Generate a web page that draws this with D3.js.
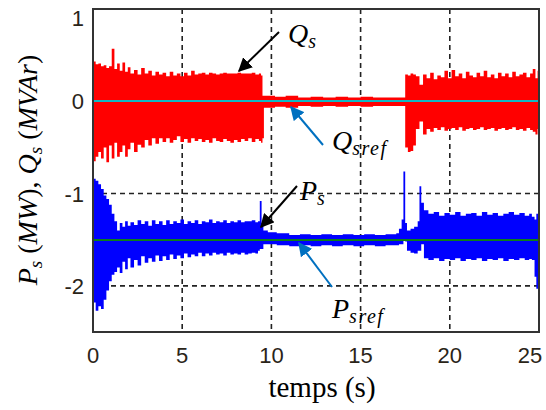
<!DOCTYPE html>
<html>
<head>
<meta charset="utf-8">
<script src="https://cdn.jsdelivr.net/npm/d3@7"></script>
<style>
  body { margin: 0; background: #fff; }
  .tick-label { font-family: "Liberation Sans", Arial, sans-serif; font-size: 22px; fill: #2a2418; }
  .math { font-family: "Liberation Serif", "Times New Roman", serif; font-style: italic; fill: #000; }
  .axisText { font-family: "Liberation Serif", "Times New Roman", serif; fill: #000; }
</style>
</head>
<body>
<div id="chart"></div>
<script>
// Chart size
var svgWidth = 546;
var svgHeight = 410;

// Tick values
var xTicks = [0, 5, 10, 15, 20, 25];
var yTicks = [-2, -1, 0, 1];
var xGrid = [5, 10, 15, 20];
var yGrid = [-2, -1, 0];

// References
var qRef = 0;
var pRef = -1.5;

// Q_s envelope (upper / lower edge of the oscillating band)
var qTime = [0, 0.15, 0.3, 0.45, 0.6, 0.75, 0.9, 1.05, 1.2, 1.35,
  1.5, 1.65, 1.8, 1.95, 2.1, 2.3, 2.5, 2.7, 2.9, 3.1,
  3.3, 3.5, 3.7, 3.9, 4.1, 4.3, 4.5, 4.7, 4.9, 5.1,
  5.3, 5.5, 5.7, 5.9, 6.1, 6.3, 6.5, 6.7, 6.9, 7.1,
  7.3, 7.5, 7.7, 7.9, 8.1, 8.3, 8.5, 8.7, 8.9, 9.1,
  9.3, 9.42, 9.5, 9.58, 10.2, 10.8, 11.5, 12.2, 12.9, 13.6,
  14.3, 15.0, 15.7, 16.4, 17.0, 17.5, 17.65, 17.8, 17.95, 18.1,
  18.3, 18.5, 18.7, 18.9, 19.1, 19.3, 19.5, 19.7, 19.9, 20.1,
  20.3, 20.5, 20.7, 20.9, 21.1, 21.3, 21.5, 21.7, 21.9, 22.1,
  22.3, 22.5, 22.7, 22.9, 23.1, 23.3, 23.5, 23.7, 23.9, 24.1,
  24.3, 24.5, 24.65, 24.8, 24.92, 25];
var qUpper = [0.43, 0.40, 0.41, 0.38, 0.39, 0.36, 0.38, 0.57, 0.35, 0.41,
  0.33, 0.42, 0.32, 0.37, 0.30, 0.34, 0.29, 0.36, 0.30, 0.33,
  0.28, 0.32, 0.29, 0.31, 0.27, 0.32, 0.28, 0.30, 0.27, 0.31,
  0.28, 0.33, 0.29, 0.30, 0.31, 0.29, 0.31, 0.30, 0.29, 0.30,
  0.31, 0.30, 0.30, 0.30, 0.31, 0.30, 0.30, 0.30, 0.31, 0.29,
  0.30, 0.28, 0.06, 0.06, 0.05, 0.06, 0.04, 0.05, 0.04, 0.05,
  0.04, 0.05, 0.04, 0.04, 0.04, 0.29, 0.28, 0.30, 0.29, 0.27,
  0.18, 0.29, 0.25, 0.31, 0.24, 0.28, 0.26, 0.33, 0.25, 0.34,
  0.27, 0.30, 0.25, 0.32, 0.28, 0.26, 0.31, 0.27, 0.33, 0.26,
  0.29, 0.25, 0.31, 0.27, 0.30, 0.26, 0.32, 0.27, 0.29, 0.31,
  0.26, 0.30, 0.35, 0.25, 0.33, 0.28];
var qLower = [-0.65, -0.60, -0.55, -0.62, -0.50, -0.66, -0.48, -0.62, -0.45, -0.60,
  -0.55, -0.48, -0.60, -0.52, -0.45, -0.55, -0.47, -0.50, -0.42, -0.48,
  -0.40, -0.46, -0.40, -0.44, -0.40, -0.45, -0.42, -0.38, -0.44, -0.41,
  -0.45, -0.40, -0.43, -0.41, -0.44, -0.42, -0.45, -0.40, -0.43, -0.44,
  -0.41, -0.43, -0.45, -0.42, -0.44, -0.41, -0.43, -0.40, -0.44, -0.41,
  -0.43, -0.45, -0.40, -0.07, -0.06, -0.07, -0.05, -0.06, -0.05, -0.06,
  -0.05, -0.06, -0.05, -0.05, -0.05, -0.50, -0.55, -0.54, -0.48, -0.30,
  -0.22, -0.36, -0.30, -0.33, -0.29, -0.31, -0.28, -0.32, -0.30, -0.29,
  -0.31, -0.28, -0.32, -0.30, -0.29, -0.31, -0.30, -0.28, -0.31, -0.30,
  -0.29, -0.32, -0.30, -0.29, -0.31, -0.30, -0.28, -0.31, -0.30, -0.32,
  -0.29, -0.31, -0.33, -0.36, -0.30, -0.38];

// P_s envelope
var pTime = [0, 0.15, 0.3, 0.45, 0.6, 0.75, 0.9, 1.05, 1.2, 1.35,
  1.5, 1.65, 1.8, 1.95, 2.1, 2.3, 2.5, 2.7, 2.9, 3.1,
  3.3, 3.5, 3.7, 3.9, 4.1, 4.3, 4.5, 4.7, 4.9, 5.1,
  5.3, 5.5, 5.7, 5.9, 6.1, 6.3, 6.5, 6.7, 6.9, 7.1,
  7.3, 7.5, 7.7, 7.9, 8.1, 8.3, 8.5, 8.7, 8.9, 9.1,
  9.25, 9.35, 9.45, 9.55, 9.8, 10.3, 11.0, 11.6, 12.2, 12.8,
  13.4, 14.0, 14.6, 15.2, 15.8, 16.4, 17.0, 17.15, 17.3, 17.4,
  17.5, 17.6, 17.8, 18.0, 18.2, 18.3, 18.4, 18.55, 18.8, 19.1,
  19.4, 19.7, 20.0, 20.3, 20.6, 20.9, 21.2, 21.5, 21.8, 22.1,
  22.4, 22.7, 23.0, 23.3, 23.6, 23.9, 24.2, 24.45, 24.6, 24.75,
  24.85, 24.95, 25];
var pUpper = [-0.84, -0.86, -0.90, -0.95, -1.02, -1.06, -1.12, -1.22, -1.30, -1.40,
  -1.32, -1.36, -1.30, -1.35, -1.31, -1.34, -1.29, -1.33, -1.30, -1.35,
  -1.29, -1.33, -1.30, -1.34, -1.29, -1.33, -1.30, -1.32, -1.28, -1.33,
  -1.30, -1.32, -1.29, -1.33, -1.30, -1.31, -1.28, -1.32, -1.30, -1.31,
  -1.29, -1.32, -1.30, -1.31, -1.29, -1.31, -1.30, -1.30, -1.29, -1.31,
  -1.30, -1.08, -1.32, -1.40, -1.42, -1.43, -1.45, -1.44, -1.45, -1.44,
  -1.45, -1.44, -1.45, -1.44, -1.45, -1.44, -1.43, -1.38, -1.28, -0.76,
  -1.32, -1.40, -1.38, -1.36, -1.30, -0.92, -1.10, -1.18, -1.22, -1.20,
  -1.24, -1.21, -1.23, -1.20, -1.24, -1.22, -1.21, -1.24, -1.20, -1.23,
  -1.21, -1.24, -1.22, -1.20, -1.23, -1.21, -1.24, -1.22, -1.25, -1.28,
  -1.22, -1.35, -1.45];
var pLower = [-2.18, -2.27, -2.22, -2.25, -2.15, -2.05, -1.95, -1.88, -1.85, -1.80,
  -1.86, -1.74, -1.82, -1.70, -1.80, -1.72, -1.78, -1.68, -1.75, -1.70,
  -1.74, -1.67, -1.73, -1.68, -1.72, -1.66, -1.71, -1.67, -1.70, -1.65,
  -1.69, -1.66, -1.68, -1.64, -1.68, -1.65, -1.67, -1.64, -1.66, -1.65,
  -1.67, -1.64, -1.66, -1.65, -1.66, -1.64, -1.66, -1.65, -1.64, -1.65,
  -1.62, -1.60, -1.60, -1.55, -1.55, -1.56, -1.57, -1.56, -1.57, -1.56,
  -1.57, -1.56, -1.57, -1.56, -1.57, -1.56, -1.56, -1.55, -1.55, -1.50,
  -1.52, -1.62, -1.64, -1.65, -1.62, -1.62, -1.55, -1.70, -1.72, -1.70,
  -1.73, -1.71, -1.72, -1.70, -1.73, -1.71, -1.72, -1.70, -1.73, -1.71,
  -1.72, -1.70, -1.73, -1.71, -1.72, -1.70, -1.72, -1.71, -1.72, -1.90,
  -2.03, -1.95, -1.90];

// Margins of the axes box
var margin = { top: 9, right: 7, bottom: 78, left: 93 };
var width = svgWidth - margin.left - margin.right;
var height = svgHeight - margin.top - margin.bottom;

var svg = d3.select("#chart")
  .append("svg")
  .attr("width", svgWidth)
  .attr("height", svgHeight);

var defs = svg.append("defs");
[["arrowBlack", "#000"], ["arrowBlue", "#0070c0"]].forEach(function(m) {
  defs.append("marker")
    .attr("id", m[0])
    .attr("viewBox", "0 0 10 10")
    .attr("refX", 9).attr("refY", 5)
    .attr("markerWidth", 7).attr("markerHeight", 7)
    .attr("markerUnits", "strokeWidth")
    .attr("orient", "auto")
    .append("path")
    .attr("d", "M0,0 L10,5 L0,10 z")
    .attr("fill", m[1]);
});

var chartGroup = svg.append("g")
  .attr("transform", `translate(${margin.left}, ${margin.top})`);

// Scales
var xScale = d3.scaleLinear().domain([0, 25]).range([0, width]);
var yScale = d3.scaleLinear().domain([-2.5, 1]).range([height, 0]);

// Dashed grid
chartGroup.selectAll(".gx").data(xGrid).enter().append("line")
  .attr("x1", d => xScale(d)).attr("x2", d => xScale(d))
  .attr("y1", 0).attr("y2", height)
  .attr("stroke", "#222").attr("stroke-width", 1.6)
  .attr("stroke-dasharray", "5,4");
chartGroup.selectAll(".gy").data(yGrid).enter().append("line")
  .attr("x1", 0).attr("x2", width)
  .attr("y1", d => yScale(d)).attr("y2", d => yScale(d))
  .attr("stroke", "#222").attr("stroke-width", 1.6)
  .attr("stroke-dasharray", "5,4");

// Bands
function zip(t, hi, lo) {
  return t.map((d, i) => ({ t: d, hi: hi[i], lo: lo[i] }));
}
var band = d3.area()
  .x(d => xScale(d.t))
  .y0(d => yScale(d.lo))
  .y1(d => yScale(d.hi))
  .curve(d3.curveStepAfter);

chartGroup.append("path")
  .datum(zip(qTime, qUpper, qLower))
  .attr("d", band)
  .attr("fill", "#ff0000");

chartGroup.append("path")
  .datum(zip(pTime, pUpper, pLower))
  .attr("d", band)
  .attr("fill", "#0000ff");

// Reference lines (snapped to whole pixels so they keep their colour over the bands)
chartGroup.append("line")
  .attr("x1", 0).attr("x2", width)
  .attr("y1", Math.round(yScale(qRef))).attr("y2", Math.round(yScale(qRef)))
  .attr("stroke", "#10b8c4").attr("stroke-width", 2)
  .attr("shape-rendering", "crispEdges");
chartGroup.append("line")
  .attr("x1", 0).attr("x2", width)
  .attr("y1", Math.round(yScale(pRef))).attr("y2", Math.round(yScale(pRef)))
  .attr("stroke", "#0a7d1c").attr("stroke-width", 2)
  .attr("shape-rendering", "crispEdges");

// Axes box
chartGroup.append("rect")
  .attr("x", 0).attr("y", 0)
  .attr("width", width).attr("height", height)
  .attr("fill", "none")
  .attr("stroke", "#333").attr("stroke-width", 2);

// Tick labels (end labels nudged inside like the original figure)
chartGroup.selectAll(".xl").data(xTicks).enter().append("text")
  .attr("class", "tick-label")
  .attr("x", d => xScale(d) - (d === 25 ? 9 : 0))
  .attr("y", height + 31)
  .attr("text-anchor", "middle")
  .text(d => d);
chartGroup.selectAll(".yl").data(yTicks).enter().append("text")
  .attr("class", "tick-label")
  .attr("x", -9)
  .attr("y", d => yScale(d) + (d === 1 ? 17 : 8))
  .attr("text-anchor", "end")
  .text(d => d);

// Axis labels
svg.append("text")
  .attr("class", "axisText")
  .attr("x", 322)
  .attr("y", 397)
  .attr("text-anchor", "middle")
  .attr("font-size", "29px")
  .text("temps (s)");

var yLab = svg.append("text")
  .attr("class", "axisText")
  .attr("transform", "translate(37, 170) rotate(-90)")
  .attr("text-anchor", "middle")
  .attr("font-size", "28px");
yLab.append("tspan").attr("class", "math").text("P");
yLab.append("tspan").attr("class", "math").attr("font-size", "19px").attr("dy", 5).text("s");
yLab.append("tspan").attr("dy", -5).text("  (");
yLab.append("tspan").attr("class", "math").text("MW");
yLab.append("tspan").text("), ");
yLab.append("tspan").attr("class", "math").text("Q");
yLab.append("tspan").attr("class", "math").attr("font-size", "19px").attr("dy", 5).text("s");
yLab.append("tspan").attr("dy", -5).text(" (");
yLab.append("tspan").attr("class", "math").text("MVAr");
yLab.append("tspan").text(")");

// Annotations
function mathLabel(x, y, main, sub) {
  var t = svg.append("text").attr("class", "math")
    .attr("x", x).attr("y", y).attr("font-size", "28px");
  t.append("tspan").text(main);
  t.append("tspan").attr("font-size", "20px").attr("dy", 5)
    .attr("letter-spacing", "1.5px").text(sub);
}
mathLabel(288, 43, "Q", "s");
mathLabel(332, 150, "Q", "sref");
mathLabel(300, 200, "P", "s");
mathLabel(332, 318, "P", "sref");

function arrow(x1, y1, x2, y2, color, marker) {
  svg.append("line")
    .attr("x1", x1).attr("y1", y1).attr("x2", x2).attr("y2", y2)
    .attr("stroke", color).attr("stroke-width", 2)
    .attr("marker-end", `url(#${marker})`);
}
arrow(279, 32, 239, 71, "#000", "arrowBlack");
arrow(323, 145, 291, 107, "#0070c0", "arrowBlue");
arrow(297, 186, 261, 227, "#000", "arrowBlack");
arrow(332, 287, 299, 243, "#0070c0", "arrowBlue");
</script>
</body>
</html>
